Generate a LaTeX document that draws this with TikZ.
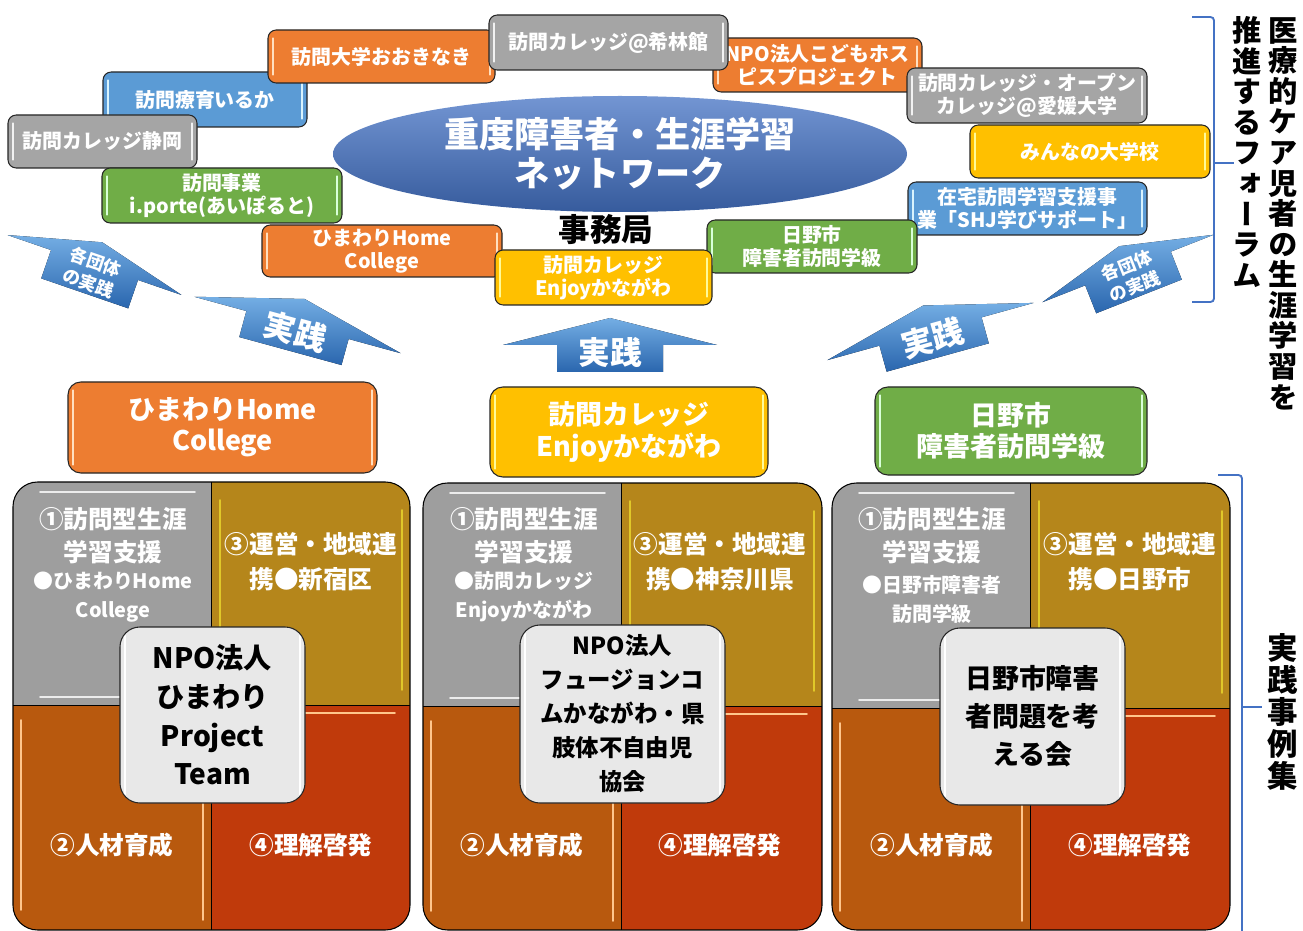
\documentclass[tikz,border=0pt]{standalone}
\usepackage{fontspec}
\setmainfont{Noto Sans CJK JP}
\newfontfamily\tatefont{Noto Sans CJK JP}[RawFeature=+vert]
\usetikzlibrary{shapes.geometric}
\newcommand{\pxunit}{0.03cm}
\definecolor{boxorange}{HTML}{ED7D31}
\definecolor{boxgray}{HTML}{A5A5A5}
\definecolor{boxblue}{HTML}{5B9BD5}
\definecolor{boxgreen}{HTML}{70AD47}
\definecolor{boxyellow}{HTML}{FFC000}
\definecolor{netblue}{HTML}{4472C4}
\definecolor{arrowlight}{HTML}{74AEE4}
\definecolor{arrowdark}{HTML}{2A66AE}
\definecolor{bracketblue}{HTML}{4472C4}
\definecolor{qgray}{HTML}{9E9E9E}
\definecolor{qgold}{HTML}{B5861B}
\definecolor{qbrown}{HTML}{B8590E}
\definecolor{qred}{HTML}{C03A0B}
\tikzset{
    glossy/.style={path picture={
        \draw[#1,line width=1.5pt,line cap=round]
          ([xshift=4.5pt,yshift=7pt]path picture bounding box.south west) --
          ([xshift=4.5pt,yshift=-7pt]path picture bounding box.north west);
        \draw[#1,line width=1.5pt,line cap=round]
          ([xshift=-4.5pt,yshift=7pt]path picture bounding box.south east) --
          ([xshift=-4.5pt,yshift=-7pt]path picture bounding box.north east);
    }},
    boxsize/.style 2 args={minimum width=#1*\pxunit,minimum height=#2*\pxunit},
    box style/.style={draw=black!85,line width=0.9pt,rounded corners=7pt,
        text=white,align=center,inner sep=0pt,
        font=\bfseries\fontsize{17}{20}\selectfont},
    box orange/.style={box style,fill=boxorange,glossy=orange!25!white},
    box gray/.style={box style,fill=boxgray,glossy=white!90!gray},
    box blue/.style={box style,fill=boxblue,glossy=cyan!15!white},
    box green/.style={box style,fill=boxgreen,glossy=green!15!white},
    box yellow/.style={box style,fill=boxyellow,glossy=yellow!40!white},
    big box/.style={rounded corners=11pt,font=\bfseries\fontsize{23}{26.5}\selectfont},
    arrow fill/.style={top color=arrowlight,bottom color=arrowdark},
    arrow text/.style={text=white,align=center,inner sep=0pt,transform shape},
    quad text/.style={text=white,align=center,inner sep=0pt,
        font=\bfseries\fontsize{21}{28}\selectfont},
    quad small/.style={text=white,align=center,inner sep=0pt,
        font=\bfseries\fontsize{17}{24.7}\selectfont},
    hilite/.style={#1,line width=1.5pt,line cap=round},
    card/.style={draw=black!85,line width=0.9pt,rounded corners=17pt,
        fill=gray!18,glossy=white,align=center,inner sep=0pt,text=black},
    tate/.style={align=center,inner sep=0pt,text=black},
    brace/.style={draw=bracketblue,line width=1.6pt,rounded corners=3pt},
}

\begin{document}
\begin{tikzpicture}[x=\pxunit,y=-\pxunit]
\useasboundingbox (0,0) rectangle (1303,931);

% network in the middle
\node[ellipse,top color=netblue!75!white,bottom color=netblue!80!black,
      minimum width=574*\pxunit,minimum height=116*\pxunit,inner sep=0pt,
      text=white,align=center,font=\bfseries\fontsize{30}{33}\selectfont]
      (network) at (620,154) {重度障害者・生涯学習\\ネットワーク};

% member groups round the network
\node[box blue,boxsize={204}{55}] (iruka) at (205,99.5) {訪問療育いるか};
\node[box orange,boxsize={227}{53}] (ookinaki) at (381.5,56.5) {訪問大学おおきなき};
\node[box gray,boxsize={189}{53}] (shizuoka) at (102.5,141.5) {訪問カレッジ静岡};
\node[box green,boxsize={240}{55}] (iporte) at (222,195.5) {訪問事業\\i.porte(あいぽると)};
\node[box orange,boxsize={240}{52}] (himawari) at (382,251) {ひまわりHome\\College};
\node[box orange,boxsize={209}{54}] (kodomo) at (817.5,65) {NPO法人こどもホス\\ピスプロジェクト};
\node[box gray,boxsize={239}{55}] (kirinkan) at (608.5,42.5) {訪問カレッジ@希林館};
\node[box gray,boxsize={240}{55}] (ehime) at (1027,95.5) {訪問カレッジ・オープン\\カレッジ@愛媛大学};
\node[box yellow,boxsize={240}{53}] (minna) at (1090,151.5) {みんなの大学校};
\node[box blue,boxsize={239}{53}] (shj) at (1027.5,208.5) {在宅訪問学習支援事\\業「SHJ学びサポート」};
\node[box green,boxsize={210}{53}] (hino) at (812,246.5) {日野市\\障害者訪問学級};
\node[box yellow,boxsize={217}{55}] (enjoy) at (603.5,277.5) {訪問カレッジ\\Enjoyかながわ};

\node[inner sep=0pt,font=\bfseries\fontsize{27}{30}\selectfont] (office) at (606,230) {事務局};

% arrows
\begin{scope}[shift={(94.5,265)},rotate=-19]
  \fill[arrow fill] (-92,0) -- (0,-24) -- (92,0) -- (46,0) -- (46,30) -- (-46,30) -- (-46,0) -- cycle;
  \node[arrow text,font=\bfseries\fontsize{15}{19}\selectfont] (groupsL) at (0,8) {各団体\\の実践};
\end{scope}
\begin{scope}[shift={(1128,268.5)},rotate=21.5]
  \fill[arrow fill] (-92,0) -- (0,-24) -- (92,0) -- (46,0) -- (46,30) -- (-46,30) -- (-46,0) -- cycle;
  \node[arrow text,font=\bfseries\fontsize{15}{19}\selectfont] (groupsR) at (0,8) {各団体\\の実践};
\end{scope}
\begin{scope}[shift={(297.5,325)},rotate=-15.3]
  \fill[arrow fill] (-107,0) -- (0,-27) -- (107,0) -- (53,0) -- (53,27) -- (-53,27) -- (-53,0) -- cycle;
  \node[arrow text,font=\bfseries\fontsize{27}{30}\selectfont] (practiceA) at (0,7) {実践};
\end{scope}
\begin{scope}[shift={(610,345)}]
  \fill[arrow fill] (-107,0) -- (0,-27) -- (107,0) -- (53,0) -- (53,27) -- (-53,27) -- (-53,0) -- cycle;
  \node[arrow text,font=\bfseries\fontsize{27}{30}\selectfont] (practiceB) at (0,7) {実践};
\end{scope}
\begin{scope}[shift={(930.5,331.5)},rotate=15.5]
  \fill[arrow fill] (-107,0) -- (0,-27) -- (107,0) -- (53,0) -- (53,27) -- (-53,27) -- (-53,0) -- cycle;
  \node[arrow text,font=\bfseries\fontsize{27}{30}\selectfont] (practiceC) at (0,7) {実践};
\end{scope}

% the three cases
\node[box orange,big box,boxsize={309}{91}] (caseA) at (222.5,427.5) {ひまわりHome\\College};
\node[box yellow,big box,boxsize={278}{90}] (caseB) at (629,432) {訪問カレッジ\\Enjoyかながわ};
\node[box green,big box,boxsize={272}{88}] (caseC) at (1011,431) {日野市\\障害者訪問学級};

% block A
\begin{scope}
  \clip[rounded corners=21pt] (13,482) rectangle (410,930);
  \fill[qgray] (13,482) rectangle (211,705);
  \fill[qgold] (211,482) rectangle (410,705);
  \fill[qbrown] (13,705) rectangle (211,930);
  \fill[qred] (211,705) rectangle (410,930);
\end{scope}
\draw[hilite=white!85!gray] (40,492) -- (195,492);
\draw[hilite=white!85!gray] (40,697) -- (195,697);
\draw[hilite=yellow!55!qgold] (220,500) -- (220,690);
\draw[hilite=yellow!55!qgold] (402,510) -- (402,690);
\draw[hilite=orange!45!white] (21,720) -- (21,910);
\draw[hilite=orange!45!white] (203,720) -- (203,920);
\draw[hilite=orange!45!white] (225,713) -- (395,713);
\draw[line width=0.9pt,rounded corners=21pt] (13,482) rectangle (410,930);
\draw[line width=0.8pt] (211,482) -- (211,930) (13,705) -- (410,705);

% block B
\begin{scope}
  \clip[rounded corners=21pt] (423,483) rectangle (822,930);
  \fill[qgray] (423,483) rectangle (621,706);
  \fill[qgold] (621,483) rectangle (822,706);
  \fill[qbrown] (423,706) rectangle (621,930);
  \fill[qred] (621,706) rectangle (822,930);
\end{scope}
\draw[hilite=white!85!gray] (450,493) -- (605,493);
\draw[hilite=white!85!gray] (450,698) -- (605,698);
\draw[hilite=yellow!55!qgold] (630,501) -- (630,691);
\draw[hilite=yellow!55!qgold] (814,511) -- (814,691);
\draw[hilite=orange!45!white] (431,721) -- (431,911);
\draw[hilite=orange!45!white] (613,721) -- (613,921);
\draw[hilite=orange!45!white] (635,714) -- (807,714);
\draw[line width=0.9pt,rounded corners=21pt] (423,483) rectangle (822,930);
\draw[line width=0.8pt] (621,483) -- (621,930) (423,706) -- (822,706);

% block C
\begin{scope}
  \clip[rounded corners=21pt] (832,483) rectangle (1230,930);
  \fill[qgray] (832,483) rectangle (1030,708);
  \fill[qgold] (1030,483) rectangle (1230,708);
  \fill[qbrown] (832,708) rectangle (1030,930);
  \fill[qred] (1030,708) rectangle (1230,930);
\end{scope}
\draw[hilite=white!85!gray] (859,493) -- (1014,493);
\draw[hilite=white!85!gray] (859,700) -- (1014,700);
\draw[hilite=yellow!55!qgold] (1039,501) -- (1039,693);
\draw[hilite=yellow!55!qgold] (1222,511) -- (1222,693);
\draw[hilite=orange!45!white] (840,723) -- (840,911);
\draw[hilite=orange!45!white] (1022,723) -- (1022,921);
\draw[hilite=orange!45!white] (1044,716) -- (1215,716);
\draw[line width=0.9pt,rounded corners=21pt] (832,483) rectangle (1230,930);
\draw[line width=0.8pt] (1030,483) -- (1030,930) (832,708) -- (1230,708);

% texts of block A
\node[quad text] (qa1) at (113,536) {①訪問型生涯\\学習支援};
\node[quad small] (qa1x) at (113,597) {●ひまわりHome\\College};
\node[quad text,font=\bfseries\fontsize{21}{30}\selectfont] (qa3) at (311,562) {③運営・地域連\\携●新宿区};
\node[quad text] (qa2) at (112,845) {②人材育成};
\node[quad text] (qa4) at (311,845) {④理解啓発};
\node[card,boxsize={185}{176},font=\bfseries\fontsize{24}{33}\selectfont] (cardA) at (212.5,715) {NPO法人\\ひまわり\\Project\\Team};

% texts of block B
\node[quad text] (qb1) at (524,536) {①訪問型生涯\\学習支援};
\node[quad small] (qb1x) at (524,597) {●訪問カレッジ\\Enjoyかながわ};
\node[quad text,font=\bfseries\fontsize{21}{30}\selectfont] (qb3) at (720,562) {③運営・地域連\\携●神奈川県};
\node[quad text] (qb2) at (522,845) {②人材育成};
\node[quad text] (qb4) at (720,845) {④理解啓発};
\node[card,boxsize={205}{178},font=\bfseries\fontsize{20}{29}\selectfont] (cardB) at (622.5,714) {NPO法人\\フュージョンコ\\ムかながわ・県\\肢体不自由児\\協会};

% texts of block C
\node[quad text] (qc1) at (932,536) {①訪問型生涯\\学習支援};
\node[quad small] (qc1x) at (932,599) {●日野市障害者\\訪問学級};
\node[quad text,font=\bfseries\fontsize{21}{30}\selectfont] (qc3) at (1130,562) {③運営・地域連\\携●日野市};
\node[quad text] (qc2) at (932,845) {②人材育成};
\node[quad text] (qc4) at (1130,845) {④理解啓発};
\node[card,boxsize={185}{177},font=\bfseries\fontsize{23}{32.4}\selectfont] (cardC) at (1032.5,716.5) {日野市障害\\者問題を考\\える会};

% braces and titles on the right
\draw[brace] (1192,17) -- (1214,17) -- (1214,302) -- (1192,302);
\draw[brace] (1214,163) -- (1234,163);
\draw[brace] (1218,475) -- (1242,475) -- (1242,940);
\draw[brace] (1242,707) -- (1262,707);

\node[tate,font=\tatefont\bfseries\fontsize{25}{26.1}\selectfont] (forumA) at (1283,213.5)
    {医\\療\\的\\ケ\\ア\\児\\者\\の\\生\\涯\\学\\習\\を};
\node[tate,font=\tatefont\bfseries\fontsize{25}{26.1}\selectfont] (forumB) at (1247,152)
    {推\\進\\す\\る\\フ\\ォ\\ー\\ラ\\ム};
\node[tate,font=\tatefont\bfseries\fontsize{26}{27.3}\selectfont] (cases) at (1283,712)
    {実\\践\\事\\例\\集};

\end{tikzpicture}
\end{document}
